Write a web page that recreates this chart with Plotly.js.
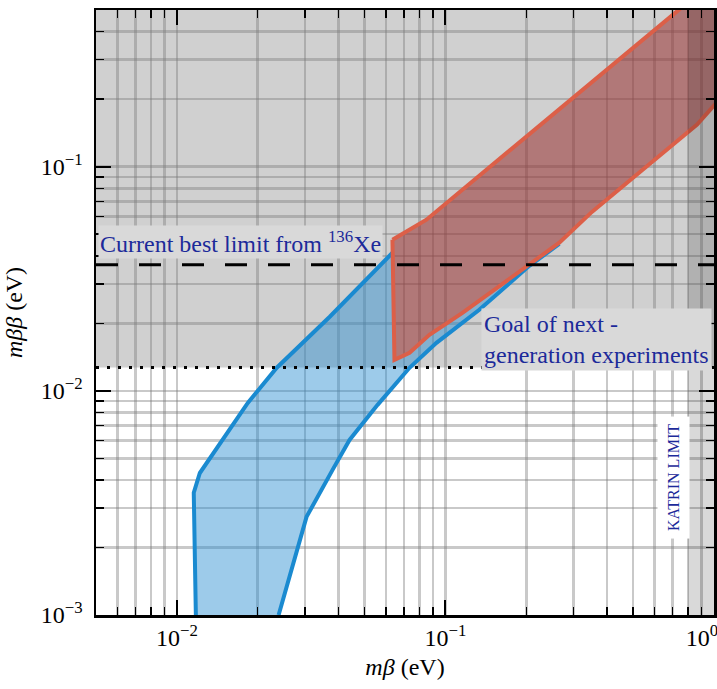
<!DOCTYPE html>
<html><head><meta charset="utf-8">
<script src="https://cdn.plot.ly/plotly-3.0.1.min.js"></script>
<style>html,body{margin:0;padding:0;background:#fff}</style>
</head><body><div id="chart" style="width:717px;height:689px"></div>
<script>
// ---- data ----
// blue band (normal ordering): upper/left edge, bottom -> top
const blueUpperX = [0.01177, 0.01156, 0.01218, 0.01837, 0.02355, 0.0371, 0.0635];
const blueUpperY = [0.001, 0.00351, 0.0043, 0.00883, 0.01268, 0.0214, 0.0413];
// blue band lower/right edge, bottom -> top
const blueLowerX = [0.02393, 0.0304, 0.0380, 0.04395, 0.0559, 0.0735, 0.0926, 0.1337, 0.2053, 0.2655];
const blueLowerY = [0.001, 0.00274, 0.00444, 0.00604, 0.00866, 0.01267, 0.01638, 0.0230, 0.0361, 0.0452];
// red band (inverted ordering)
const redUpperX = [0.0635, 0.085, 0.741, 1.2];
const redUpperY = [0.0472, 0.058, 0.502, 0.8];
const redLeftX = [0.0635, 0.0640, 0.0646];
const redLeftY = [0.0472, 0.0255, 0.01374];
const redLowerX = [0.0646, 0.0735, 0.0872, 0.1157, 0.205, 0.2655, 0.352, 0.526, 0.865, 0.99, 1.2];
const redLowerY = [0.01374, 0.01479, 0.01778, 0.02228, 0.0365, 0.0458, 0.063, 0.094, 0.154, 0.185, 0.24];
// limits
const currentLimit = 0.0365;   // current best limit from 136Xe
const goalLimit = 0.0127;      // goal of next-generation experiments
const katrinLimit = 0.8;       // KATRIN limit
// axes
const xRange = [0.005, 1.0];
const yRange = [0.001, 0.5];
const xTickVals = [0.01, 0.1, 1];
const xTickText = ['10<sup>−2</sup>', '10<sup>−1</sup>', '10<sup>0</sup>\u00a0\u00a0\u00a0\u00a0'];
const xMinorVals = [0.006, 0.007, 0.008, 0.009, 0.02, 0.03, 0.04, 0.05, 0.06, 0.07, 0.08, 0.09, 0.2, 0.3, 0.4, 0.5, 0.6, 0.7, 0.8, 0.9];
const yTickVals = [0.001, 0.01, 0.1];
const yTickText = ['10<sup>−3</sup>', '10<sup>−2</sup>', '10<sup>−1</sup>'];
const yMinorVals = [0.002, 0.003, 0.004, 0.005, 0.006, 0.007, 0.008, 0.009, 0.02, 0.03, 0.04, 0.05, 0.06, 0.07, 0.08, 0.09, 0.2, 0.3, 0.4];

// ---- build ----
const serif = 'Liberation Serif, Times New Roman, serif';
const textBlue = '#1c2a9a';
const gridC = 'rgba(120,120,120,0.40)';

// blue fill polygon stops at the red band's edge
const mergeX = blueLowerX[8];
const redBelow = redLowerX.map((x, i) => [x, redLowerY[i]]).filter(p => p[0] <= mergeX);
const blueLowBelow = blueLowerX.map((x, i) => [x, blueLowerY[i]]).filter(p => p[0] <= mergeX).reverse();
const bluePoly = blueUpperX.map((x, i) => [x, blueUpperY[i]])
  .concat([[redLeftX[1], redLeftY[1]]])
  .concat(redBelow)
  .concat(blueLowBelow);

const redPoly = redUpperX.map((x, i) => [x, redUpperY[i]])
  .concat(redLowerX.map((x, i) => [x, redLowerY[i]]).reverse())
  .concat(redLeftX.map((x, i) => [x, redLeftY[i]]).reverse().slice(1));

const traces = [
  {x: bluePoly.map(p => p[0]), y: bluePoly.map(p => p[1]), mode: 'lines', fill: 'toself',
   fillcolor: 'rgba(37,139,208,0.45)', line: {width: 0}, hoverinfo: 'skip'},
  {x: blueUpperX, y: blueUpperY, mode: 'lines', line: {color: '#1a8ad0', width: 4}},
  {x: blueLowerX, y: blueLowerY, mode: 'lines', line: {color: '#1a8ad0', width: 4}},
  {x: redPoly.map(p => p[0]), y: redPoly.map(p => p[1]), mode: 'lines', fill: 'toself',
   fillcolor: 'rgba(150,40,40,0.52)', line: {color: '#dc5f48', width: 4}},
  {x: xRange, y: [currentLimit, currentLimit], mode: 'lines', line: {color: 'black', width: 3, dash: '22px,21px'}},
  {x: xRange, y: [goalLimit, goalLimit], mode: 'lines', line: {color: 'black', width: 3, dash: '3px,8px'}},
  {x: [katrinLimit, 10, 10, katrinLimit, katrinLimit], y: [1e-5, 1e-5, 10, 10, 1e-5], mode: 'lines', fill: 'toself',
   fillcolor: 'rgba(0,0,0,0.15)', line: {width: 0}, hoverinfo: 'skip'}
];

function axis(range, tv, tt, mv) {
  return {
    type: 'log', range: [Math.log10(range[0]), Math.log10(range[1])], autorange: false,
    showline: true, linecolor: 'black', linewidth: 2.5, mirror: 'allticks',
    ticks: 'inside', ticklen: 15, tickwidth: 2, tickcolor: 'black',
    showgrid: true, gridcolor: gridC, gridwidth: 2.5, zeroline: false,
    tickmode: 'array', tickvals: tv, ticktext: tt,
    tickfont: {family: serif, size: 24, color: 'black'},
    ticklabeloverflow: 'allow',
    minor: {tickmode: 'array', tickvals: mv, ticks: 'inside', ticklen: 8, tickwidth: 1.5, tickcolor: 'black',
            showgrid: true, gridcolor: gridC, gridwidth: 2.5},
    automargin: false
  };
}

const xaxis = axis(xRange, xTickVals, xTickText, xMinorVals);
xaxis.title = {text: '<i>mβ</i> (eV)', font: {family: serif, size: 24, color: 'black'}, standoff: 8};
const yaxis = axis(yRange, yTickVals, yTickText, yMinorVals);
yaxis.title = {text: '<i>mββ</i> (eV)', font: {family: serif, size: 24, color: 'black'}, standoff: 12};
yaxis.ticklabelstandoff = 6;

const layout = {
  width: 717, height: 689,
  margin: {l: 96, r: 3, t: 10, b: 74},
  paper_bgcolor: 'white', plot_bgcolor: 'white',
  showlegend: false,
  xaxis: xaxis, yaxis: yaxis,
  shapes: [
    {type: 'rect', xref: 'paper', yref: 'y', x0: 0, x1: 1, y0: goalLimit, y1: 10,
     fillcolor: '#d0d0d0', line: {width: 0}, layer: 'below'}
  ],
  annotations: [
    {xref: 'paper', yref: 'paper', x: 0.003, y: 0.6165, xanchor: 'left', yanchor: 'middle',
     text: 'Current best limit from <sup>136</sup>Xe', showarrow: false,
     font: {family: serif, size: 24, color: textBlue}, bgcolor: '#d9d9d9', borderpad: 1},
    {xref: 'paper', yref: 'paper', x: 0.997, y: 0.456, xanchor: 'right', yanchor: 'middle', align: 'left',
     text: 'Goal of next -<br>generation experiments', showarrow: false,
     font: {family: serif, size: 24, color: textBlue}, bgcolor: '#d9d9d9', borderpad: 2},
    {xref: 'paper', yref: 'paper', x: 0.9337, y: 0.2264, xanchor: 'center', yanchor: 'middle', textangle: -90,
     text: 'KATRIN LIMIT', showarrow: false,
     font: {family: serif, size: 16, color: textBlue}, bgcolor: 'white', borderpad: 7}
  ]
};

Plotly.newPlot('chart', traces, layout, {staticPlot: true, displayModeBar: false});
</script>
</body></html>
